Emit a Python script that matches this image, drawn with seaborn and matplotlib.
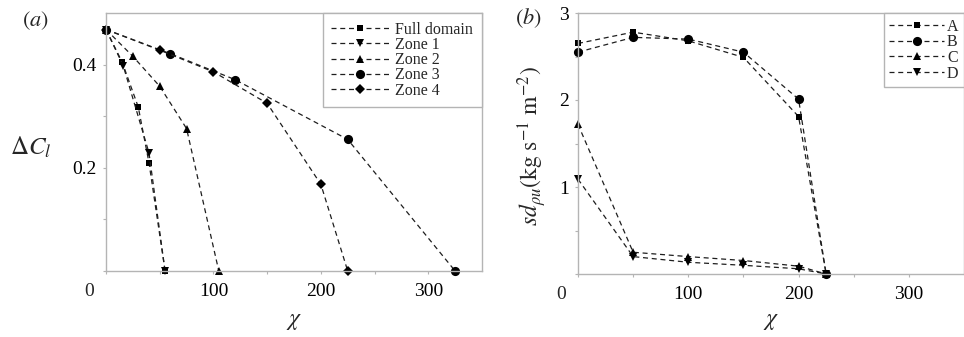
import numpy as np
import pandas as pd
import matplotlib
matplotlib.use("Agg")
import matplotlib.pyplot as plt
from matplotlib.ticker import FixedLocator
import seaborn as sns

# ---------------- data ----------------
# panel (a)
fd_x = [0, 15, 30, 40, 55]
fd_y = [0.468, 0.405, 0.318, 0.210, 0.0]
z1_x = [0, 16, 40, 55]
z1_y = [0.468, 0.398, 0.229, 0.0]
z2_x = [0, 25, 50, 75, 105]
z2_y = [0.468, 0.416, 0.358, 0.276, 0.0]
z3_x = [0, 60, 120, 225, 325]
z3_y = [0.468, 0.421, 0.371, 0.255, 0.0]
z4_x = [0, 50, 100, 150, 200, 225]
z4_y = [0.468, 0.428, 0.386, 0.325, 0.168, 0.0]
names_a = ["Full domain", "Zone 1", "Zone 2", "Zone 3", "Zone 4"]

# panel (b)
chi_b = [0, 50, 100, 150, 200, 225]
A_y = [2.65, 2.78, 2.68, 2.49, 1.81, 0.0]
B_y = [2.55, 2.72, 2.70, 2.55, 2.01, 0.0]
C_y = [1.72, 0.25, 0.20, 0.155, 0.09, 0.0]
D_y = [1.09, 0.20, 0.135, 0.10, 0.06, 0.0]
names_b = ["A", "B", "C", "D"]

xticks = [0, 100, 200, 300]
xticklabels = ["", "100", "200", "300"]
yticks_a = [0, 0.2, 0.4]
yticklabels_a = ["", "0.2", "0.4"]
yticks_b = [0, 1, 2, 3]
yticklabels_b = ["", "1", "2", "3"]

# ---------------- style ----------------
sns.set_style("ticks")
plt.rcParams["font.family"] = ["Liberation Serif", "DejaVu Serif"]
plt.rcParams["mathtext.fontset"] = "stix"

GRAY = "#b4b4b4"
LINE = "#1e1e1e"
DASH = (0, (4, 3))

fig = plt.figure(figsize=(9.64, 3.37), dpi=100)
ax_a = fig.add_axes([106 / 964, 1 - 271 / 337, 376 / 964, 258 / 337])
ax_b = fig.add_axes([578 / 964, 1 - 274 / 337, 386 / 964, 261 / 337])

markers = {"Full domain": ("s", 5.0), "Zone 1": ("v", 5.8), "Zone 2": ("^", 5.8),
           "Zone 3": ("o", 6.6), "Zone 4": ("D", 5.0),
           "A": ("s", 5.0), "B": ("o", 6.6), "C": ("^", 5.8), "D": ("v", 5.8)}

series_a = [(fd_x, fd_y), (z1_x, z1_y), (z2_x, z2_y), (z3_x, z3_y), (z4_x, z4_y)]
for name, (xs, ys) in zip(names_a, series_a):
    m, ms = markers[name]
    df = pd.DataFrame({"chi": xs, "val": ys})
    sns.lineplot(data=df, x="chi", y="val", ax=ax_a, sort=False, estimator=None,
                 color=LINE, linewidth=0.9, linestyle=DASH, marker=m,
                 markersize=ms, markeredgewidth=0, markerfacecolor="black",
                 label=name, clip_on=False)

series_b = [A_y, B_y, C_y, D_y]
for name, ys in zip(names_b, series_b):
    m, ms = markers[name]
    df = pd.DataFrame({"chi": chi_b, "val": ys})
    sns.lineplot(data=df, x="chi", y="val", ax=ax_b, sort=False, estimator=None,
                 color=LINE, linewidth=0.9, linestyle=DASH, marker=m,
                 markersize=ms, markeredgewidth=0, markerfacecolor="black",
                 label=name, clip_on=False)


def style_axes(ax, yticks, yticklabels, ymax, yminor):
    ax.set_xlim(0, 350)
    ax.set_ylim(0, ymax)
    ax.set_xticks(xticks)
    ax.set_xticklabels(xticklabels)
    ax.set_yticks(yticks)
    ax.set_yticklabels(yticklabels)
    ax.xaxis.set_minor_locator(FixedLocator([50, 150, 250]))
    ax.yaxis.set_minor_locator(FixedLocator(yminor))
    for s in ax.spines.values():
        s.set_visible(True)
        s.set_color(GRAY)
        s.set_linewidth(1.0)
    ax.tick_params(which="both", direction="out", length=2.5, width=0.8,
                   color=GRAY, labelsize=14, labelcolor="black")
    ax.tick_params(axis="x", pad=6)
    ax.tick_params(axis="y", pad=4)
    ax.annotate("0", xy=(0, 0), xycoords=("data", "axes fraction"),
                xytext=(-12, -8.5), textcoords="offset points",
                ha="center", va="top", fontsize=14)


style_axes(ax_a, yticks_a, yticklabels_a, 0.5, [0.1, 0.3])
style_axes(ax_b, yticks_b, yticklabels_b, 3.0, [0.5, 1.5, 2.5])

ax_a.set_xlabel(r"$\chi$", fontsize=17, va="center")
ax_b.set_xlabel(r"$\chi$", fontsize=17, va="center")
ax_a.xaxis.set_label_coords(0.5, -0.195)
ax_b.xaxis.set_label_coords(0.5, -0.183)

ax_a.set_ylabel(r"$\Delta C_l$", fontsize=18, rotation=0, ha="center", va="center")
ax_a.yaxis.set_label_coords(-0.2, 0.48)
ax_b.set_ylabel(r"$sd_{\rho u}(\mathrm{kg\ s^{-1}\ m^{-2}})$", fontsize=17,
                rotation=90, ha="center", va="center")
ax_b.yaxis.set_label_coords(-0.119, 0.49)

fig.text(35 / 964, 1 - 21 / 337, r"$(a)$", fontsize=16, ha="center", va="center")
fig.text(528 / 964, 1 - 18 / 337, r"$(b)$", fontsize=16, ha="center", va="center")

leg_a = ax_a.legend(loc="upper right", bbox_to_anchor=(1, 1), borderaxespad=0,
                    fontsize=11.5, frameon=True, fancybox=False, framealpha=1,
                    edgecolor=GRAY, handlelength=3.6, handletextpad=0.4,
                    labelspacing=-0.05, borderpad=0.55)
leg_a.get_frame().set_linewidth(1.0)
leg_b = ax_b.legend(loc="upper right", bbox_to_anchor=(1, 1), borderaxespad=0,
                    fontsize=11.5, frameon=True, fancybox=False, framealpha=1,
                    edgecolor=GRAY, handlelength=3.4, handletextpad=0.2,
                    labelspacing=-0.02, borderpad=0.35)
leg_b.get_frame().set_linewidth(1.0)

fig.savefig("out.png", dpi=100)
